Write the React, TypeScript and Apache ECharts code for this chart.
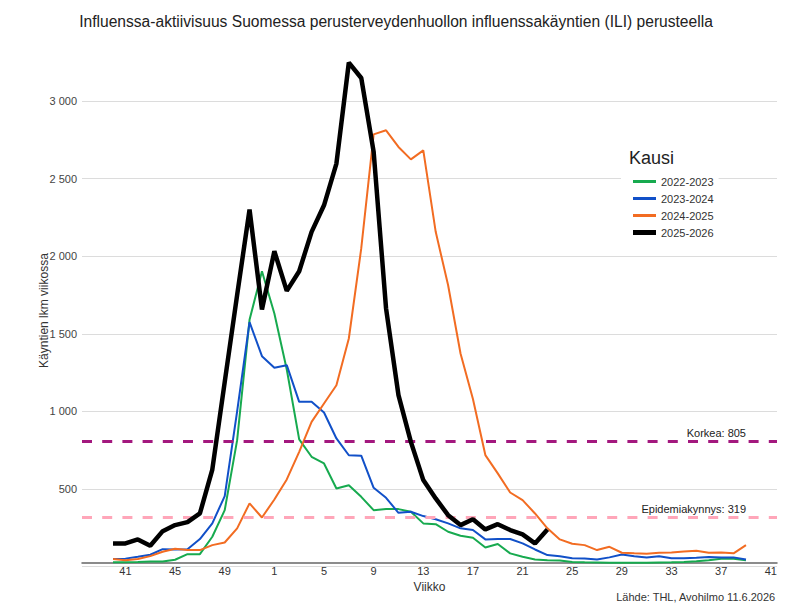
import { useEffect, useRef } from "react";
import * as echarts from "echarts";

const FONT = "'Liberation Sans', Arial, sans-serif";

// Category axis: weeks 38 .. 52, 1 .. 41
const WEEKS = [
  "38", "39", "40", "41", "42", "43", "44", "45", "46", "47", "48", "49", "50", "51", "52",
  "1", "2", "3", "4", "5", "6", "7", "8", "9", "10", "11", "12", "13", "14", "15", "16", "17",
  "18", "19", "20", "21", "22", "23", "24", "25", "26", "27", "28", "29", "30", "31", "32",
  "33", "34", "35", "36", "37", "38", "39", "40", "41",
];

// Season values from week 40 onwards
const S2022_2023 = [
  28, 28, 30, 33, 33, 45, 81, 81, 193, 364, 815, 1590, 1903,
  1631, 1270, 820, 708, 665, 504, 525, 450, 364, 371, 371, 354, 279, 274, 225, 199, 186,
  124, 146, 86, 64, 47, 42, 40, 30, 28, 27, 26, 26, 26, 26, 27, 28, 30, 35, 42, 51, 51, 42,
];
const S2023_2024 = [
  49, 52, 64, 77, 113, 111, 113, 178, 279, 455, 1000, 1575, 1356,
  1281, 1298, 1062, 1062, 993, 826, 718, 715, 508, 444, 347, 354, 326, 306, 279, 247, 236,
  176, 178, 178, 150, 111, 75, 68, 55, 53, 47, 60, 79, 68, 60, 68, 55, 55, 57, 62, 60, 60, 47,
];
const S2024_2025 = [
  49, 42, 49, 68, 96, 115, 107, 107, 139, 156, 247, 408, 317,
  433, 562, 740, 933, 1051, 1169, 1470, 2050, 2785, 2811, 2704, 2624, 2682, 2157, 1813, 1373, 1080,
  719, 601, 478, 429, 343, 247, 176, 148, 139, 107, 128, 90, 86, 84, 90, 92, 98, 103, 90, 92, 86, 139,
];
const S2025_2026 = [
  150, 150, 176, 135, 229, 268, 287, 343, 626, 1190, 1750, 2300, 1657,
  2032, 1777, 1903, 2157, 2328, 2597, 3247, 3148, 2672, 1663, 1105, 804, 558, 440, 332, 268, 306,
  240, 274, 236, 208, 150, 240,
];

const KORKEA = 805;
const EPIDEMIAKYNNYS = 319;

const SEASONS = [
  { name: "2022-2023", data: S2022_2023, color: "#17aa4f", width: 2, icon: "path://M0,0H23V3H0Z" },
  { name: "2023-2024", data: S2023_2024, color: "#1150c8", width: 2, icon: "path://M0,0H23V3H0Z" },
  { name: "2024-2025", data: S2024_2025, color: "#f26c22", width: 2, icon: "path://M0,0H23V3H0Z" },
  { name: "2025-2026", data: S2025_2026, color: "#000000", width: 4.5, icon: "path://M0,0H23V5H0Z" },
];

const LEAD = 2; // categories before week 40

function pad(values: number[]): (number | null)[] {
  const out: (number | null)[] = [];
  for (let i = 0; i < WEEKS.length; i++) {
    const j = i - LEAD;
    out.push(j >= 0 && j < values.length ? values[j] : null);
  }
  return out;
}

function fmt(v: number): string {
  return String(v).replace(/\B(?=(\d{3})+(?!\d))/g, " ");
}

export default function App() {
  const ref = useRef<HTMLDivElement>(null);

  useEffect(() => {
    if (!ref.current) return;
    const chart = echarts.init(ref.current, undefined, { renderer: "svg" });

    const series: any[] = [
      {
        name: "refs",
        type: "line",
        data: [],
        silent: true,
        z: 1,
        markLine: {
          silent: true,
          symbol: ["none", "none"],
          animation: false,
          data: [
            {
              yAxis: KORKEA,
              lineStyle: { color: "#a3187e", width: 3, type: [10, 10.2] },
              label: {
                show: true,
                position: "insideEndTop",
                formatter: "Korkea: " + KORKEA,
                color: "#222",
                fontSize: 11,
                fontFamily: FONT,
                distance: [31, 3],
              },
            },
            {
              yAxis: EPIDEMIAKYNNYS,
              lineStyle: { color: "#ffa6b9", width: 3, type: [10, 10.2] },
              label: {
                show: true,
                position: "insideEndTop",
                formatter: "Epidemiakynnys: " + EPIDEMIAKYNNYS,
                color: "#222",
                fontSize: 11,
                fontFamily: FONT,
                distance: [31, 3],
              },
            },
          ],
        },
      },
      ...SEASONS.map((s, i) => ({
        name: s.name,
        type: "line",
        data: pad(s.data),
        symbol: "none",
        showSymbol: false,
        connectNulls: false,
        z: 2 + i,
        color: s.color,
        lineStyle: { color: s.color, width: s.width },
      })),
    ];

    chart.setOption({
      animation: false,
      backgroundColor: "#ffffff",
      textStyle: { fontFamily: FONT },
      title: [
        {
          text: "Influenssa-aktiivisuus Suomessa perusterveydenhuollon influenssakäyntien (ILI) perusteella",
          left: "center",
          top: 8,
          textStyle: { fontSize: 15.6, fontWeight: "normal", color: "#222", fontFamily: FONT },
        },
        {
          text: "Kausi",
          left: 624,
          top: 144,
          z: 20,
          textStyle: { fontSize: 18, fontWeight: "normal", color: "#222", fontFamily: FONT },
        },
      ],
      legend: {
        orient: "vertical",
        left: 621,
        top: 166,
        padding: [9, 5, 10, 12],
        backgroundColor: "#ffffff",
        itemWidth: 23,
        itemHeight: 13,
        itemGap: 4,
        itemTextGap: 8,
        symbolKeepAspect: true,
        textStyle: { fontSize: 11, color: "#333", fontFamily: FONT, lineHeight: 13 },
        data: SEASONS.map((s) => ({
          name: s.name,
          icon: s.icon,
          itemStyle: { color: s.color },
        })),
        z: 10,
      },
      grid: { left: 82, right: 15, top: 54.4, bottom: 43.3, containLabel: false },
      xAxis: {
        type: "category",
        data: WEEKS,
        boundaryGap: true,
        offset: -4,
        axisLine: { onZero: false, lineStyle: { color: "#666", width: 1.5 } },
        axisTick: { show: false },
        axisLabel: {
          interval: (i: number) => i % 4 === 3,
          fontSize: 11,
          color: "#333",
          margin: 3,
          fontFamily: FONT,
        },
        splitLine: { show: false },
        name: "Viikko",
        nameLocation: "middle",
        nameGap: 18,
        nameMoveOverlap: false,
        nameTextStyle: { fontSize: 12, color: "#333", fontFamily: FONT },
      },
      yAxis: {
        type: "value",
        min: 0,
        max: 3300,
        interval: 500,
        axisLine: { show: false },
        axisTick: { show: false },
        axisLabel: {
          fontSize: 11,
          color: "#444",
          margin: 5,
          fontFamily: FONT,
          formatter: (v: number) => (v === 0 || v % 500 !== 0 ? "" : fmt(v)),
        },
        splitLine: {
          show: true,
          showMaxLine: false,
          lineStyle: {
            color: ["#dcdcdc", "#dcdcdc", "#dcdcdc", "#dcdcdc", "#dcdcdc", "#dcdcdc", "#dcdcdc", "rgba(0,0,0,0)"],
            width: 1,
          },
        },
        name: "Käyntien lkm viikossa",
        nameLocation: "middle",
        nameGap: 32,
        nameMoveOverlap: false,
        nameTextStyle: { fontSize: 12, color: "#333", fontFamily: FONT },
      },
      graphic: [
        {
          type: "text",
          right: 16,
          top: 591,
          style: {
            text: "Lähde: THL, Avohilmo 11.6.2026",
            fontSize: 11,
            fill: "#333",
            fontFamily: FONT,
          },
        },
      ],
      series,
    });

    return () => chart.dispose();
  }, []);

  return (
    <div
      ref={ref}
      style={{ position: "absolute", left: 0, top: 0, width: 792, height: 610 }}
    />
  );
}
